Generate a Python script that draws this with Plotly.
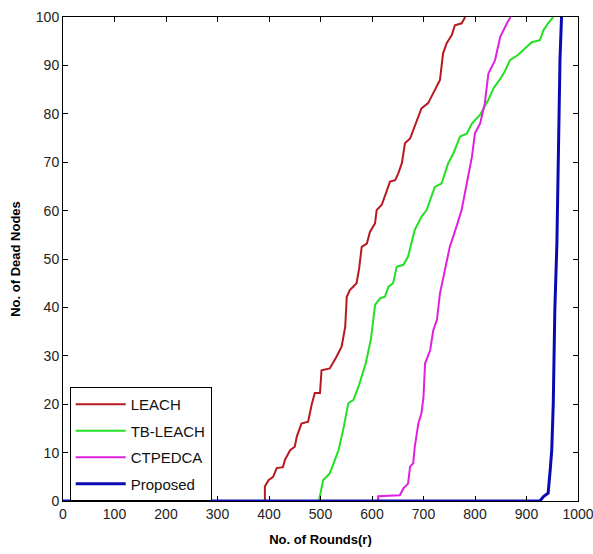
import plotly.graph_objects as go

# ---- data ----
leach_x = [0, 392, 392, 399, 408, 415, 427, 431, 441, 450, 454, 463, 476, 483, 489, 499, 502, 518, 531, 541,
           548, 551, 557, 570, 575, 580, 590, 596, 606, 609, 619, 629, 635, 645, 651, 658, 664, 674, 683,
           696, 709, 719, 732, 738, 745, 755, 761, 774, 781]
leach_y = [0, 0, 3, 4.3, 5, 6.8, 7, 8.5, 10.5, 11.2, 13.3, 16, 16.4, 20, 22.3, 22.3, 27, 27.4, 29.8, 31.9,
           36, 42.2, 43.6, 45, 48, 52.5, 53.2, 55.6, 57.4, 60.1, 61.2, 64.3, 66, 66.3, 67.7, 69.8, 73.9, 74.9, 77.3,
           81.1, 82.2, 84.2, 87, 92.5, 94.6, 96.3, 98.3, 98.7, 100]

tbleach_x = [0, 497, 505, 518, 528, 535, 544, 554, 564, 575, 588, 598, 606, 616, 625, 632, 641, 648, 661,
             670, 683, 696, 706, 722, 735, 748, 758, 771, 784, 794, 810, 819, 826, 836, 849, 858, 868, 884,
             897, 910, 926, 933, 942, 952]
tbleach_y = [0, 0, 4.3, 5.7, 8.5, 10.5, 14.7, 20.2, 20.9, 24, 28.5, 33.5, 40.5, 41.9, 42.2, 44.3, 45, 48.4, 48.8,
             50.5, 56, 58.7, 60.1, 64.9, 65.6, 69.8, 71.8, 75.3, 75.9, 78, 79.8, 81.5, 82.9, 85.3, 87.2, 88.8, 91.1, 92.2,
             93.5, 94.8, 95.2, 97.3, 98.7, 100]

ctpedca_x = [0, 612, 612, 654, 661, 670, 674, 680, 683, 690, 696, 700, 703, 713, 719, 726, 732, 742, 751,
             764, 774, 784, 794, 800, 810, 819, 826, 839, 849, 862, 869]
ctpedca_y = [0, 0, 1, 1.2, 2.6, 3.6, 7.1, 7.8, 11.2, 16, 18.1, 21.5, 28.4, 31.2, 35.3, 37.4, 42.9, 47.7, 52.5,
             56.7, 60.1, 65.6, 71.1, 76, 78, 82.2, 88.3, 91.1, 95.9, 98.7, 100]

proposed_x = [0, 926, 933, 942, 946, 949, 952, 955, 959, 962, 965, 968]
proposed_y = [0, 0, 0.9, 1.6, 6.4, 10.5, 20.2, 39.5, 53.2, 73.9, 91.1, 100]

x_ticks = [0, 100, 200, 300, 400, 500, 600, 700, 800, 900, 1000]
y_ticks = [0, 10, 20, 30, 40, 50, 60, 70, 80, 90, 100]

series = [
    ("LEACH", leach_x, leach_y, "#b81820", 2),
    ("TB-LEACH", tbleach_x, tbleach_y, "#22e022", 2),
    ("CTPEDCA", ctpedca_x, ctpedca_y, "#e020e0", 2),
    ("Proposed", proposed_x, proposed_y, "#0a0ab4", 3),
]

fig = go.Figure()
for i, (name, xs, ys, col, w) in enumerate(series):
    fig.add_trace(go.Scatter(x=xs, y=ys, mode="lines", name=name, legendgroup=str(i),
                             line=dict(color=col, width=w)))

font_family = "Liberation Sans, Arial, sans-serif"
axis_common = dict(showline=True, linecolor="black", linewidth=1, mirror="ticks",
                   ticks="inside", ticklen=5, tickcolor="black", showgrid=False, zeroline=False,
                   ticklabeloverflow="allow", automargin=False,
                   tickfont=dict(family=font_family, size=14, color="#222"))

fig.update_layout(
    width=593, height=554,
    margin=dict(l=63, r=15, t=17, b=53),
    paper_bgcolor="white", plot_bgcolor="white",
    showlegend=True,
    legend=dict(x=0.013, y=0.0, xanchor="left", yanchor="bottom",
                bordercolor="black", borderwidth=1, bgcolor="white",
                font=dict(family=font_family, size=15, color="#111"),
                tracegroupgap=4, itemwidth=50),
    xaxis=dict(range=[0, 1000], tickvals=x_ticks,
               title=dict(text="<b>No. of Rounds(r)</b>", font=dict(family=font_family, size=13, color="black"),
                          standoff=14), **axis_common),
    yaxis=dict(range=[0, 100], tickvals=y_ticks,
               title=dict(text="<b>No. of Dead Nodes</b>", font=dict(family=font_family, size=13, color="black"),
                          standoff=12), **axis_common),
)

fig.write_html("out.html")
